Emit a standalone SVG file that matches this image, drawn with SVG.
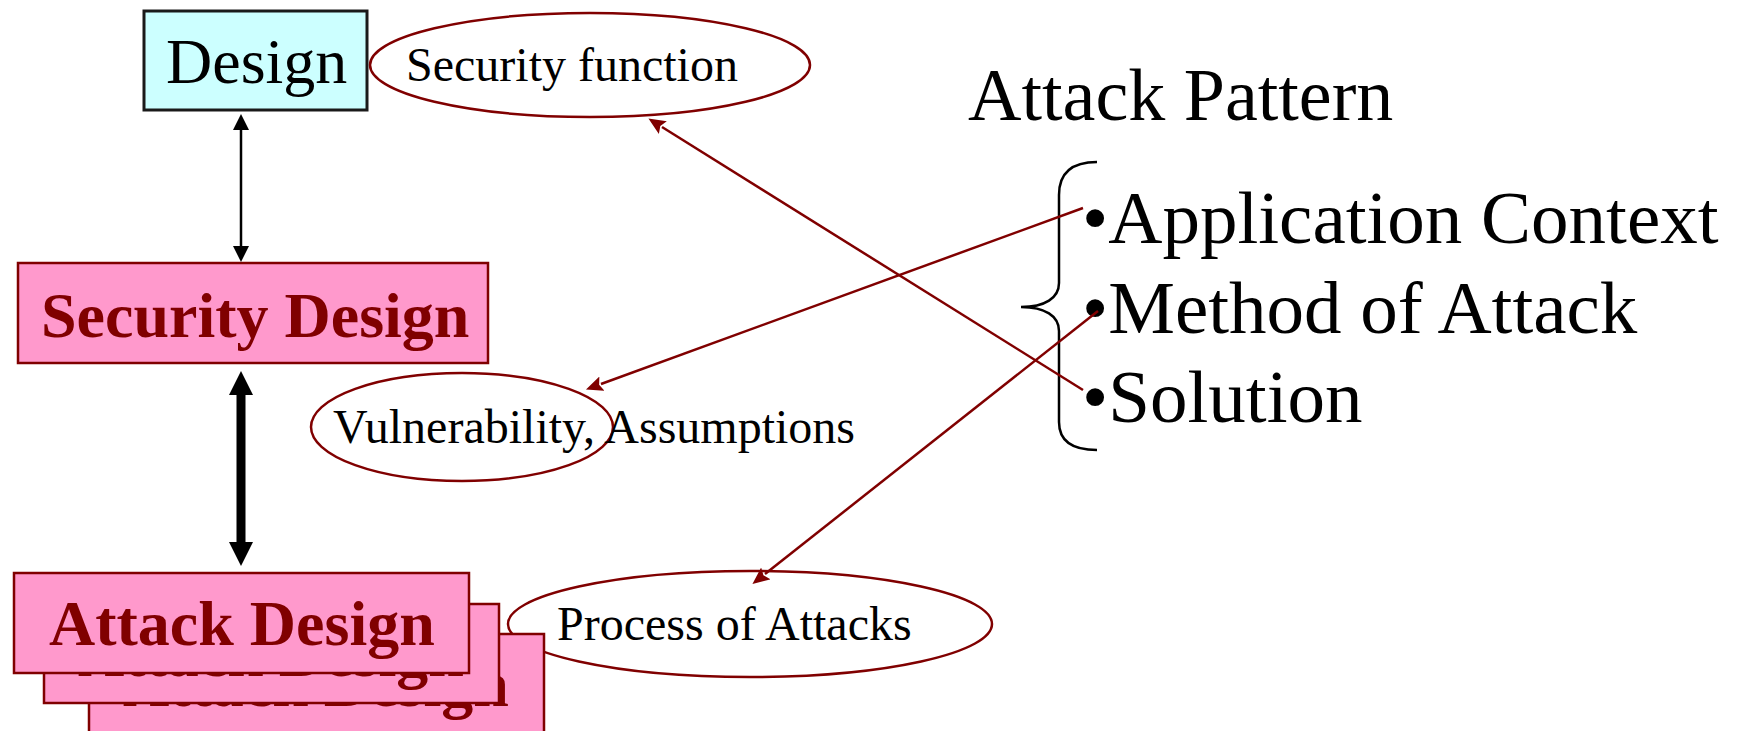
<svg xmlns="http://www.w3.org/2000/svg" width="1744" height="731" viewBox="0 0 1744 731">
  <style>
    .serif { font-family: "Liberation Serif", "Times New Roman", serif; }
    .label { font-size: 48px; fill: #000000; }
    .bold-red { font-size: 64px; font-weight: bold; fill: #800000; }
    .pink { fill: #ff99cc; stroke: #800000; stroke-width: 2.5; }
    .oval { fill: #ffffff; stroke: #800000; stroke-width: 2.5; }
    .link { stroke: #800000; stroke-width: 2.5; fill: none; }
    .big { font-size: 75px; fill: #000000; }
  </style>
  <defs>
    <marker id="redHead" markerUnits="userSpaceOnUse" markerWidth="18" markerHeight="16" refX="1" refY="7.5" orient="auto">
      <path d="M0,0 L17,7.5 L0,15 L3,7.5 z" fill="#800000"/>
    </marker>
    <marker id="thinHead" markerUnits="userSpaceOnUse" markerWidth="17" markerHeight="17" refX="1" refY="8" orient="auto-start-reverse">
      <path d="M0,0 L16,8 L0,16 z" fill="#000000"/>
    </marker>
    <marker id="thickHead" markerUnits="userSpaceOnUse" markerWidth="25" markerHeight="25" refX="1" refY="12" orient="auto-start-reverse">
      <path d="M0,0 L24,12 L0,24 z" fill="#000000"/>
    </marker>
  </defs>

  <rect width="1744" height="731" fill="#ffffff"/>

  <!-- label ovals -->
  <g id="security-function">
    <ellipse class="oval" cx="590" cy="65" rx="220" ry="52"/>
    <text class="serif label" x="406" y="81">Security function</text>
  </g>

  <g id="process-of-attacks">
    <ellipse class="oval" cx="750" cy="624" rx="242" ry="53"/>
    <text class="serif label" x="557" y="640">Process of Attacks</text>
  </g>

  <!-- design boxes -->
  <g id="design">
    <rect x="144" y="11" width="223" height="99" fill="#ccffff" stroke="#1a1a1a" stroke-width="3"/>
    <text class="serif" x="166" y="83" font-size="64" fill="#000000">Design</text>
  </g>

  <g id="security-design">
    <rect class="pink" x="18" y="263" width="470" height="100"/>
    <text class="serif bold-red" x="41" y="337">Security Design</text>
  </g>

  <!-- stacked attack design cards, back to front -->
  <g id="attack-design-3">
    <rect class="pink" x="89" y="634" width="455" height="110"/>
    <text class="serif bold-red" x="123" y="706">Attack Design</text>
  </g>
  <g id="attack-design-2">
    <rect class="pink" x="44" y="604" width="455" height="99"/>
    <text class="serif bold-red" x="78" y="676">Attack Design</text>
  </g>
  <g id="attack-design">
    <rect class="pink" x="14" y="573" width="455" height="100"/>
    <text class="serif bold-red" x="49" y="645">Attack Design</text>
  </g>

  <g id="vulnerability">
    <ellipse class="oval" cx="462" cy="427" rx="151" ry="54"/>
    <text class="serif label" x="333" y="443">Vulnerability, Assumptions</text>
  </g>

  <!-- attack pattern list -->
  <g id="attack-pattern">
    <text class="serif" x="968" y="120" font-size="74" fill="#000000">Attack Pattern</text>
    <path d="M1097,162 C1070,162 1059,175 1059,195 L1059,283 C1059,298 1045,307 1021,307 C1045,307 1059,316 1059,331 L1059,422 C1059,440 1070,450 1097,450" fill="none" stroke="#000000" stroke-width="2.5"/>
    <text class="serif big" x="1082" y="243">•Application Context</text>
    <text class="serif big" x="1082" y="333">•Method of Attack</text>
    <text class="serif big" x="1082" y="422">•Solution</text>
  </g>

  <!-- connectors -->
  <g id="connectors">
    <line x1="241" y1="129" x2="241" y2="247" stroke="#000000" stroke-width="2.5" marker-start="url(#thinHead)" marker-end="url(#thinHead)"/>
    <line x1="241" y1="394" x2="241" y2="543" stroke="#000000" stroke-width="9" marker-start="url(#thickHead)" marker-end="url(#thickHead)"/>
    <line class="link" x1="1083" y1="208" x2="601" y2="384" marker-end="url(#redHead)"/>
    <line class="link" x1="1083" y1="390" x2="662" y2="127" marker-end="url(#redHead)"/>
    <line class="link" x1="1098" y1="311" x2="765" y2="574" marker-end="url(#redHead)"/>
  </g>
</svg>
